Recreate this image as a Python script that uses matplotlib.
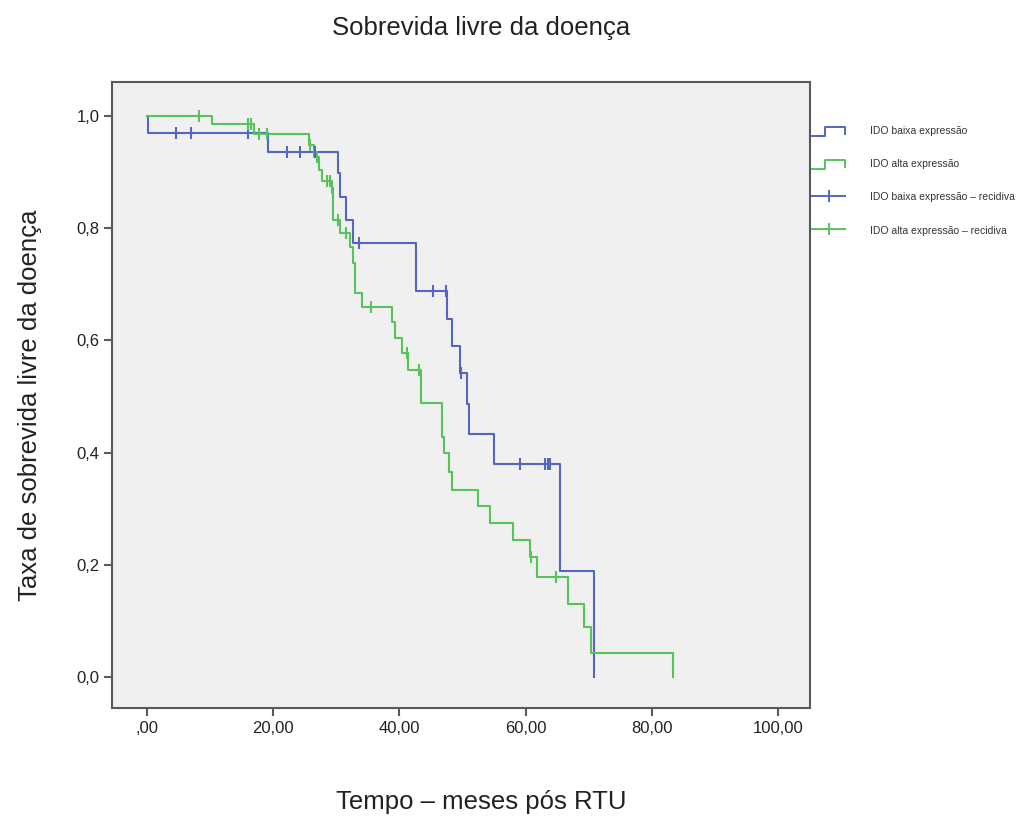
import numpy as np
import matplotlib
matplotlib.use("Agg")
import matplotlib.pyplot as plt
from matplotlib.lines import Line2D
from matplotlib.legend_handler import HandlerBase

plt.rcParams['font.family'] = ['Liberation Sans', 'DejaVu Sans']

# Kaplan-Meier curves (time in months, survival)
blue_time = [0, 0.2, 19.2, 30.3, 30.6, 31.5, 32.7, 42.6, 47.5, 48.3, 49.6, 50.7, 51.0, 55.0, 65.5, 70.8]
blue_surv = [1.0, 0.969, 0.936, 0.898, 0.856, 0.815, 0.774, 0.688, 0.638, 0.590, 0.542, 0.487, 0.433, 0.380, 0.189, 0.0]
blue_cens = [4.6, 7.0, 16.0, 22.2, 24.2, 26.6, 33.6, 45.3, 47.3, 49.7, 59.1, 63.1, 63.5, 63.9]

green_time = [0, 10.3, 16.9, 25.7, 26.5, 27.3, 27.8, 29.3, 29.5, 30.6, 32.2, 32.6, 33.0, 34.1, 38.8, 39.3,
              40.4, 41.4, 43.4, 46.7, 47.1, 47.9, 48.3, 52.5, 54.4, 58.0, 60.7, 61.8, 66.7, 69.3, 70.3, 83.4]
green_surv = [1.0, 0.985, 0.968, 0.948, 0.927, 0.904, 0.884, 0.862, 0.815, 0.791, 0.767, 0.738, 0.685, 0.660,
              0.632, 0.604, 0.578, 0.547, 0.488, 0.427, 0.399, 0.366, 0.334, 0.304, 0.275, 0.244, 0.214, 0.178,
              0.131, 0.089, 0.043, 0.0]
green_cens = [8.2, 16.0, 16.5, 17.8, 19.0, 25.8, 27.0, 28.5, 29.0, 29.4, 30.3, 31.6, 35.5, 41.2, 43.1, 60.9, 64.8]

labels = ['IDO baixa expressão', 'IDO alta expressão',
          'IDO baixa expressão – recidiva', 'IDO alta expressão – recidiva']
x_ticks = [0, 20, 40, 60, 80, 100]
x_ticklabels = [',00', '20,00', '40,00', '60,00', '80,00', '100,00']
y_ticks = [0.0, 0.2, 0.4, 0.6, 0.8, 1.0]
y_ticklabels = ['0,0', '0,2', '0,4', '0,6', '0,8', '1,0']

BLUE = '#5266c2'
GREEN = '#55c45a'
SPINE = '#5a5a5a'


def level_at(times, surv, t):
    i = np.searchsorted(times, t, side='right') - 1
    return np.asarray(surv)[i]


class StepHandler(HandlerBase):
    def create_artists(self, legend, orig, xd, yd, w, h, fontsize, trans):
        x0, y0 = -xd, -yd
        xs = [x0, x0 + 0.4 * w, x0 + 0.4 * w, x0 + w, x0 + w]
        ys = [y0, y0, y0 + 0.85 * h, y0 + 0.85 * h, y0 + 0.2 * h]
        ln = Line2D(xs, ys, color=orig.get_color(), lw=1.4, transform=trans)
        return [ln]


fig = plt.figure(figsize=(10.28, 8.17), dpi=100)
ax = fig.add_axes([0.109, 0.1334, 0.679, 0.7662])
ax.set_facecolor('#f0f0f0')

b_line, = ax.step(blue_time, blue_surv, where='post', color=BLUE, lw=1.5)
g_line, = ax.step(green_time, green_surv, where='post', color=GREEN, lw=1.5)
b_c, = ax.plot(blue_cens, level_at(blue_time, blue_surv, blue_cens), ls='none', marker='|',
               ms=8, mew=1.5, color=BLUE)
g_c, = ax.plot(green_cens, level_at(green_time, green_surv, green_cens), ls='none', marker='|',
               ms=8, mew=1.5, color=GREEN)

ax.set_xlim(-5.55, 105.07)
ax.set_ylim(-0.0553, 1.0606)
ax.set_xticks(x_ticks)
ax.set_xticklabels(x_ticklabels)
ax.set_yticks(y_ticks)
ax.set_yticklabels(y_ticklabels)
ax.tick_params(direction='out', length=6, width=1.5, color=SPINE, labelsize=12, labelcolor='#222222', pad=3)
for s in ax.spines.values():
    s.set_color(SPINE)
    s.set_linewidth(1.5)

# legend proxies
b_leg = Line2D([], [], color=BLUE, lw=1.4, marker='|', ms=9, mew=1.4)
g_leg = Line2D([], [], color=GREEN, lw=1.4, marker='|', ms=9, mew=1.4)
leg = ax.legend([b_line, g_line, b_leg, g_leg], labels, loc='upper left',
                bbox_to_anchor=(812 / 1028, 1 - 125 / 817), bbox_transform=fig.transFigure,
                frameon=False, fontsize=7.5, handlelength=3.2, handleheight=1.2,
                handletextpad=2.4, labelspacing=2.15, borderpad=0, borderaxespad=0,
                numpoints=1, handler_map={b_line: StepHandler(), g_line: StepHandler()})
for t in leg.get_texts():
    t.set_color('#333333')

fig.text(481 / 1028, 1 - 28 / 817, 'Sobrevida livre da doença', ha='center', va='center',
         fontsize=18.5, color='#222222')
fig.text(481 / 1028, 1 - 802 / 817, 'Tempo – meses pós RTU', ha='center', va='center',
         fontsize=18.5, color='#222222')
fig.text(30 / 1028, 1 - 405 / 817, 'Taxa de sobrevida livre da doença', ha='center', va='center',
         rotation=90, fontsize=18.5, color='#222222')

fig.savefig('out.png', dpi=100)
